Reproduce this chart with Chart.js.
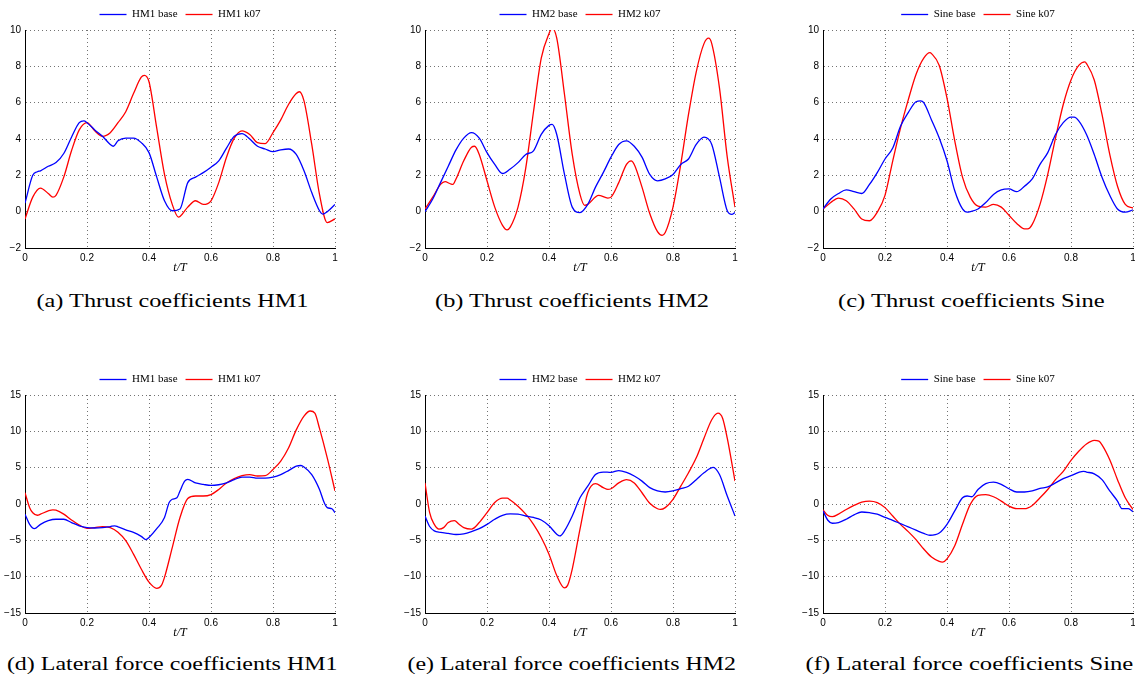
<!DOCTYPE html>
<html>
<head>
<meta charset="utf-8">
<script src="https://cdn.jsdelivr.net/npm/chart.js@4.4.1/dist/chart.umd.min.js"></script>
<style>
  body { margin: 0; background: #fff; width: 1135px; height: 683px; overflow: hidden; position: relative; }
  canvas { position: absolute; }
  .caption { position: absolute; font-family: 'Liberation Serif', serif; font-size: 19px; white-space: nowrap; color: #000; }
</style>
</head>
<body>
<canvas id="c1" width="360" height="280" style="left:0px;top:0px"></canvas>
<canvas id="c2" width="360" height="280" style="left:400px;top:0px"></canvas>
<canvas id="c3" width="360" height="280" style="left:798px;top:0px"></canvas>
<canvas id="c4" width="360" height="280" style="left:0px;top:365px"></canvas>
<canvas id="c5" width="360" height="280" style="left:400px;top:365px"></canvas>
<canvas id="c6" width="360" height="280" style="left:798px;top:365px"></canvas>

<div class="caption" data-cx="172" data-cy="301" data-w="272">(a) Thrust coefficients HM1</div>
<div class="caption" data-cx="572" data-cy="301" data-w="274">(b) Thrust coefficients HM2</div>
<div class="caption" data-cx="971" data-cy="301" data-w="267">(c) Thrust coefficients Sine</div>
<div class="caption" data-cx="172" data-cy="664" data-w="330">(d) Lateral force coefficients HM1</div>
<div class="caption" data-cx="571" data-cy="664" data-w="328">(e) Lateral force coefficients HM2</div>
<div class="caption" data-cx="969" data-cy="664" data-w="328">(f) Lateral force coefficients Sine</div>

<script>
// [t/T, value]
const hm1ThrustBase = [[0,0.47],[0.025,2.0],[0.04,2.2],[0.05,2.25],[0.075,2.5],[0.1,2.7],[0.125,3.2],[0.15,4.1],[0.175,4.9],[0.19,5.0],[0.2,4.9],[0.225,4.5],[0.25,4.15],[0.275,3.7],[0.285,3.6],[0.3,3.9],[0.325,4.05],[0.35,4.05],[0.375,3.8],[0.4,3.25],[0.425,1.9],[0.45,0.6],[0.475,0.05],[0.5,0.15],[0.525,1.6],[0.55,1.9],[0.575,2.15],[0.6,2.45],[0.625,2.8],[0.65,3.5],[0.675,4.15],[0.7,4.3],[0.725,4.0],[0.75,3.6],[0.775,3.45],[0.8,3.3],[0.825,3.4],[0.85,3.45],[0.875,3.15],[0.9,2.25],[0.925,1.05],[0.95,0.05],[0.96,-0.13],[0.975,0.0],[1,0.4]];
const hm1ThrustK07 = [[0,-0.4],[0.025,0.8],[0.05,1.3],[0.075,1.0],[0.09,0.8],[0.1,0.9],[0.125,1.9],[0.15,3.35],[0.175,4.5],[0.2,4.9],[0.225,4.45],[0.25,4.15],[0.275,4.35],[0.3,4.9],[0.325,5.5],[0.35,6.5],[0.375,7.4],[0.385,7.5],[0.4,7.15],[0.425,4.6],[0.45,2.05],[0.475,0.4],[0.495,-0.3],[0.5,-0.27],[0.525,0.25],[0.55,0.6],[0.575,0.4],[0.6,0.6],[0.625,1.6],[0.65,3.0],[0.675,4.05],[0.7,4.45],[0.725,4.25],[0.75,3.8],[0.775,3.75],[0.8,4.35],[0.825,5.05],[0.85,5.9],[0.875,6.5],[0.885,6.6],[0.9,6.1],[0.925,3.7],[0.95,0.95],[0.975,-0.6],[1,-0.4]];

const hm2ThrustBase = [[0,0.0],[0.025,0.7],[0.05,1.6],[0.075,2.5],[0.1,3.4],[0.125,4.05],[0.15,4.35],[0.175,4.05],[0.2,3.25],[0.225,2.6],[0.25,2.1],[0.275,2.35],[0.3,2.7],[0.325,3.15],[0.35,3.35],[0.375,4.25],[0.4,4.75],[0.41,4.8],[0.425,4.25],[0.45,2.05],[0.475,0.25],[0.5,-0.05],[0.525,0.4],[0.55,1.35],[0.575,2.15],[0.6,3.0],[0.625,3.7],[0.65,3.9],[0.675,3.6],[0.7,3.0],[0.725,2.05],[0.75,1.7],[0.775,1.8],[0.8,2.05],[0.825,2.6],[0.85,2.9],[0.875,3.7],[0.9,4.1],[0.925,3.7],[0.95,1.9],[0.975,0.05],[0.99,-0.15],[1,-0.05]];
const hm2ThrustK07 = [[0,0.15],[0.025,0.8],[0.05,1.5],[0.065,1.65],[0.08,1.55],[0.09,1.5],[0.1,1.8],[0.125,2.8],[0.15,3.55],[0.16,3.6],[0.175,3.15],[0.2,1.7],[0.225,0.25],[0.25,-0.75],[0.265,-1.0],[0.275,-0.85],[0.3,0.25],[0.325,2.4],[0.35,5.5],[0.375,8.45],[0.4,9.8],[0.41,10.1],[0.425,9.55],[0.45,6.45],[0.475,3.15],[0.5,0.95],[0.515,0.35],[0.525,0.4],[0.56,0.9],[0.59,0.75],[0.6,0.8],[0.625,1.6],[0.65,2.6],[0.665,2.8],[0.675,2.6],[0.7,1.35],[0.725,-0.1],[0.75,-1.1],[0.765,-1.3],[0.775,-1.15],[0.8,0.25],[0.825,2.6],[0.85,5.35],[0.875,7.7],[0.9,9.25],[0.915,9.55],[0.925,9.25],[0.95,6.8],[0.975,3.0],[1,0.25]];

const sineThrustBase = [[0,0.15],[0.025,0.7],[0.05,1.0],[0.075,1.2],[0.1,1.1],[0.125,1.0],[0.15,1.5],[0.175,2.15],[0.2,2.9],[0.225,3.5],[0.25,4.7],[0.275,5.45],[0.3,6.05],[0.315,6.1],[0.325,6.0],[0.35,5.05],[0.375,4.05],[0.4,2.8],[0.425,1.15],[0.45,0.15],[0.465,-0.03],[0.475,0.0],[0.5,0.15],[0.525,0.5],[0.55,0.95],[0.575,1.2],[0.6,1.25],[0.625,1.1],[0.65,1.4],[0.675,1.8],[0.7,2.6],[0.725,3.25],[0.75,4.25],[0.775,4.9],[0.8,5.2],[0.81,5.2],[0.825,5.0],[0.85,4.25],[0.875,3.15],[0.9,1.9],[0.925,0.9],[0.95,0.15],[0.975,-0.03],[1,0.1]];
const sineThrustK07 = [[0,0.15],[0.025,0.5],[0.05,0.75],[0.075,0.6],[0.1,0.15],[0.125,-0.4],[0.15,-0.5],[0.175,-0.03],[0.2,0.9],[0.225,2.8],[0.25,4.6],[0.275,6.15],[0.3,7.55],[0.325,8.45],[0.345,8.75],[0.35,8.7],[0.375,8.05],[0.4,6.25],[0.425,3.9],[0.45,1.9],[0.475,0.8],[0.5,0.3],[0.525,0.25],[0.55,0.4],[0.575,0.25],[0.6,-0.2],[0.625,-0.65],[0.65,-0.95],[0.66,-0.95],[0.675,-0.7],[0.7,0.4],[0.725,2.05],[0.75,4.05],[0.775,5.9],[0.8,7.25],[0.825,8.05],[0.845,8.25],[0.85,8.15],[0.875,7.25],[0.9,5.35],[0.925,3.15],[0.95,1.4],[0.975,0.4],[1,0.2]];

const hm1LateralBase = [[0,-1.4],[0.015,-2.8],[0.03,-3.4],[0.05,-2.8],[0.075,-2.3],[0.1,-2.1],[0.125,-2.1],[0.15,-2.55],[0.175,-3.0],[0.2,-3.25],[0.225,-3.3],[0.25,-3.25],[0.275,-3.1],[0.29,-3.0],[0.3,-3.15],[0.325,-3.55],[0.35,-3.9],[0.375,-4.45],[0.39,-4.9],[0.4,-4.6],[0.425,-3.4],[0.45,-1.85],[0.465,0.2],[0.475,0.65],[0.49,0.85],[0.5,1.8],[0.515,3.15],[0.525,3.4],[0.55,2.9],[0.575,2.7],[0.6,2.55],[0.625,2.65],[0.65,2.9],[0.675,3.35],[0.7,3.7],[0.725,3.7],[0.75,3.55],[0.775,3.55],[0.8,3.7],[0.825,4.05],[0.85,4.6],[0.875,5.2],[0.89,5.3],[0.9,5.1],[0.925,4.05],[0.95,2.0],[0.965,0.2],[0.975,-0.5],[0.99,-0.65],[1,-1.2]];
const hm1LateralK07 = [[0,1.55],[0.015,-0.5],[0.025,-1.2],[0.04,-1.55],[0.05,-1.4],[0.075,-0.95],[0.09,-0.8],[0.1,-0.85],[0.125,-1.4],[0.15,-2.2],[0.175,-2.9],[0.2,-3.35],[0.225,-3.25],[0.25,-3.1],[0.275,-3.25],[0.3,-3.9],[0.325,-5.05],[0.35,-6.9],[0.375,-8.95],[0.4,-10.75],[0.425,-11.6],[0.44,-11.2],[0.45,-10.1],[0.475,-6.0],[0.5,-1.85],[0.525,0.75],[0.55,1.1],[0.575,1.1],[0.6,1.3],[0.625,2.0],[0.65,2.9],[0.675,3.5],[0.7,3.9],[0.725,4.05],[0.75,3.85],[0.775,3.9],[0.8,4.75],[0.825,5.9],[0.85,7.7],[0.875,10.2],[0.9,12.1],[0.92,12.8],[0.935,12.5],[0.95,10.4],[0.975,6.35],[1,1.8]];

const hm2LateralBase = [[0,-1.65],[0.015,-3.1],[0.03,-3.7],[0.05,-3.9],[0.075,-4.05],[0.1,-4.2],[0.125,-4.1],[0.15,-3.8],[0.175,-3.4],[0.2,-2.8],[0.225,-2.1],[0.25,-1.55],[0.275,-1.35],[0.3,-1.4],[0.325,-1.65],[0.35,-1.85],[0.375,-2.2],[0.4,-3.0],[0.425,-4.15],[0.435,-4.4],[0.45,-3.7],[0.475,-1.65],[0.5,0.85],[0.525,2.45],[0.55,4.05],[0.575,4.4],[0.6,4.35],[0.625,4.6],[0.65,4.35],[0.675,3.85],[0.7,3.15],[0.725,2.25],[0.75,1.8],[0.775,1.65],[0.8,1.8],[0.825,2.1],[0.85,2.45],[0.875,3.35],[0.9,4.3],[0.93,5.05],[0.95,4.05],[0.975,1.1],[1,-1.65]];
const hm2LateralK07 = [[0,2.9],[0.015,-1.2],[0.03,-2.8],[0.045,-3.45],[0.06,-3.25],[0.075,-2.55],[0.095,-2.3],[0.11,-2.8],[0.125,-3.25],[0.15,-3.45],[0.175,-2.55],[0.2,-1.2],[0.225,0.2],[0.25,0.8],[0.265,0.8],[0.275,0.55],[0.3,-0.3],[0.325,-1.4],[0.35,-2.8],[0.375,-4.6],[0.4,-6.9],[0.425,-9.85],[0.45,-11.55],[0.46,-11.2],[0.475,-8.95],[0.5,-3.45],[0.525,1.55],[0.55,2.8],[0.575,2.25],[0.59,2.0],[0.6,2.1],[0.625,2.9],[0.65,3.35],[0.675,2.9],[0.7,1.55],[0.725,0.1],[0.75,-0.65],[0.76,-0.75],[0.775,-0.5],[0.8,0.65],[0.825,2.45],[0.85,4.3],[0.875,6.35],[0.9,9.05],[0.925,11.6],[0.945,12.5],[0.96,11.8],[0.975,9.05],[1,3.15]];

const sineLateralBase = [[0,-0.95],[0.015,-2.2],[0.03,-2.65],[0.05,-2.55],[0.075,-2.1],[0.1,-1.5],[0.125,-1.1],[0.15,-1.2],[0.175,-1.4],[0.2,-1.85],[0.225,-2.25],[0.25,-2.7],[0.275,-3.15],[0.3,-3.6],[0.325,-4.05],[0.345,-4.3],[0.375,-4.0],[0.4,-2.8],[0.425,-0.95],[0.45,0.85],[0.465,1.1],[0.48,1.0],[0.5,2.0],[0.525,2.8],[0.55,3.0],[0.575,2.7],[0.6,2.1],[0.625,1.65],[0.65,1.65],[0.675,1.8],[0.7,2.15],[0.725,2.35],[0.75,2.9],[0.775,3.5],[0.8,3.9],[0.825,4.35],[0.84,4.5],[0.85,4.4],[0.875,4.15],[0.9,3.35],[0.925,1.8],[0.95,0.4],[0.965,-0.65],[0.985,-0.65],[1,-1.05]];
const sineLateralK07 = [[0,-0.8],[0.015,-1.55],[0.03,-1.75],[0.05,-1.4],[0.075,-0.75],[0.1,-0.2],[0.125,0.25],[0.15,0.4],[0.175,0.2],[0.2,-0.5],[0.225,-1.65],[0.25,-2.8],[0.275,-3.8],[0.3,-4.9],[0.325,-6.2],[0.35,-7.3],[0.375,-7.9],[0.385,-8.0],[0.4,-7.55],[0.425,-5.75],[0.45,-2.8],[0.475,-0.05],[0.5,1.2],[0.525,1.3],[0.55,1.0],[0.575,0.4],[0.6,-0.3],[0.625,-0.65],[0.65,-0.65],[0.675,-0.2],[0.7,0.85],[0.725,2.0],[0.75,3.35],[0.775,4.5],[0.8,6.0],[0.825,7.25],[0.85,8.25],[0.875,8.75],[0.89,8.65],[0.9,8.15],[0.925,6.1],[0.95,3.35],[0.975,0.85],[1,-0.75]];

const thrustAxis = { min: -2, max: 10, step: 2 };
const lateralAxis = { min: -15, max: 15, step: 5 };

const panels = [
  { id: 'c1', names: ['HM1 base', 'HM1 k07'], base: hm1ThrustBase, k07: hm1ThrustK07, axis: thrustAxis },
  { id: 'c2', names: ['HM2 base', 'HM2 k07'], base: hm2ThrustBase, k07: hm2ThrustK07, axis: thrustAxis },
  { id: 'c3', names: ['Sine base', 'Sine k07'], base: sineThrustBase, k07: sineThrustK07, axis: thrustAxis },
  { id: 'c4', names: ['HM1 base', 'HM1 k07'], base: hm1LateralBase, k07: hm1LateralK07, axis: lateralAxis },
  { id: 'c5', names: ['HM2 base', 'HM2 k07'], base: hm2LateralBase, k07: hm2LateralK07, axis: lateralAxis },
  { id: 'c6', names: ['Sine base', 'Sine k07'], base: sineLateralBase, k07: sineLateralK07, axis: lateralAxis }
];

const tickFont = { family: 'Liberation Sans', size: 10 };
const gridColor = 'rgba(0,0,0,0.55)';

function toPoints(pairs) {
  return pairs.map(p => ({ x: p[0], y: p[1] }));
}

function lineDataset(label, pairs, color) {
  return {
    label: label,
    data: toPoints(pairs),
    borderColor: color,
    backgroundColor: color,
    borderWidth: 1.3,
    pointRadius: 0,
    pointStyle: 'line',
    cubicInterpolationMode: 'monotone',
    fill: false,
    yAxisID: 'y'
  };
}

function fmtTick(v) {
  return String(Number(v.toFixed(2))).replace('-', '\u2212');
}

function renderPanel(p) {
  const ctx = document.getElementById(p.id).getContext('2d');
  new Chart(ctx, {
    type: 'line',
    data: {
      datasets: [
        lineDataset(p.names[0], p.base, '#0000ff'),
        lineDataset(p.names[1], p.k07, '#ff0000')
      ]
    },
    options: {
      responsive: false,
      animation: false,
      devicePixelRatio: 1,
      layout: { padding: { top: 1, right: 0, bottom: 0, left: 0 } },
      plugins: {
        legend: {
          position: 'top',
          labels: {
            usePointStyle: true,
            pointStyleWidth: 27,
            padding: 8,
            color: '#000',
            font: { family: 'Liberation Serif', size: 11 }
          }
        },
        tooltip: { enabled: false }
      },
      scales: {
        x: {
          type: 'linear',
          min: 0,
          max: 1,
          ticks: { stepSize: 0.2, color: '#000', font: tickFont, padding: 4, maxRotation: 0, callback: fmtTick },
          grid: { color: gridColor, drawTicks: false },
          border: { color: '#000', width: 1, dash: [1, 3] },
          title: {
            display: true,
            text: 't/T',
            color: '#000',
            font: { family: 'Liberation Serif', size: 12, style: 'italic' },
            padding: { top: 0, bottom: 5 }
          },
          afterFit: scale => { scale.height = 32; }
        },
        y: {
          position: 'left',
          min: p.axis.min,
          max: p.axis.max,
          ticks: { stepSize: p.axis.step, color: '#000', font: tickFont, padding: 4, callback: fmtTick },
          grid: { color: gridColor, drawTicks: false },
          border: { color: '#000', width: 1, dash: [1, 3] },
          afterFit: scale => { scale.width = 25; }
        },
        // empty right-hand strip so the legend stays centred over the plot
        yRight: {
          position: 'right',
          min: p.axis.min,
          max: p.axis.max,
          ticks: { display: false },
          grid: { display: false },
          border: { display: false },
          afterFit: scale => { scale.width = 25; }
        }
      }
    }
  });
}

panels.forEach(renderPanel);

// captions under each panel, stretched to the width they take in the reference
document.querySelectorAll('.caption').forEach(el => {
  const w = el.offsetWidth;
  const h = el.offsetHeight;
  const s = parseFloat(el.dataset.w) / w;
  el.style.left = (parseFloat(el.dataset.cx) - w / 2) + 'px';
  el.style.top = (parseFloat(el.dataset.cy) - h / 2) + 'px';
  el.style.transform = 'scaleX(' + s.toFixed(3) + ')';
});
</script>
</body>
</html>
